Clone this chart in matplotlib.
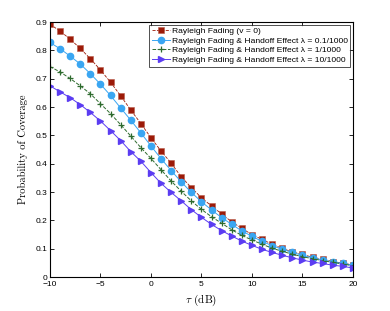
import numpy as np
import matplotlib
matplotlib.use("Agg")
import matplotlib.pyplot as plt

plt.rcParams["mathtext.fontset"] = "cm"

tau = np.arange(-10, 21)

p_rayleigh = [0.893, 0.868, 0.840, 0.807, 0.771, 0.731, 0.688, 0.640, 0.590, 0.542,
              0.492, 0.445, 0.402, 0.354, 0.316, 0.280, 0.251, 0.223, 0.195, 0.172,
              0.150, 0.133, 0.116, 0.101, 0.089, 0.080, 0.070, 0.063, 0.055, 0.049, 0.043]
p_handoff_01 = [0.828, 0.806, 0.780, 0.752, 0.718, 0.681, 0.641, 0.597, 0.554, 0.509,
                0.463, 0.418, 0.376, 0.336, 0.299, 0.266, 0.237, 0.210, 0.186, 0.163,
                0.144, 0.126, 0.111, 0.098, 0.087, 0.077, 0.068, 0.060, 0.054, 0.048, 0.042]
p_handoff_1 = [0.743, 0.724, 0.701, 0.675, 0.647, 0.612, 0.577, 0.538, 0.498, 0.457,
               0.419, 0.379, 0.339, 0.303, 0.269, 0.239, 0.213, 0.190, 0.167, 0.147,
               0.131, 0.116, 0.102, 0.091, 0.081, 0.072, 0.065, 0.058, 0.052, 0.046, 0.040]
p_handoff_10 = [0.675, 0.654, 0.633, 0.609, 0.581, 0.551, 0.517, 0.482, 0.443, 0.409,
                0.369, 0.331, 0.299, 0.269, 0.238, 0.211, 0.186, 0.164, 0.145, 0.127,
                0.112, 0.098, 0.087, 0.077, 0.068, 0.060, 0.053, 0.048, 0.042, 0.038, 0.032]

labels = ["Rayleigh Fading (v = 0)",
          "Rayleigh Fading & Handoff Effect \u03bb = 0.1/1000",
          "Rayleigh Fading & Handoff Effect \u03bb = 1/1000",
          "Rayleigh Fading & Handoff Effect \u03bb = 10/1000"]

fig = plt.figure(figsize=(3.9, 3.11), dpi=100)
ax = fig.add_axes([0.128, 0.109, 0.777, 0.82])

ax.plot(tau, p_rayleigh, color="#9c1a08", ls="--", lw=0.6, marker="s", ms=3.8,
        mec="#b85a48", mew=0.4, label=labels[0])
ax.plot(tau, p_handoff_01, color="#3aa6f2", ls="-", lw=0.7, marker="o", ms=4.5,
        mec="#3aa6f2", label=labels[1])
ax.plot(tau, p_handoff_1, color="#2e6b2e", ls="--", lw=0.7, marker="+", ms=4.5,
        mew=0.9, label=labels[2])
ax.plot(tau, p_handoff_10, color="#5b3cf2", ls="-", lw=0.7, marker=">", ms=4.5,
        mec="#5b3cf2", label=labels[3])

ax.set_xlim(-10, 20)
ax.set_ylim(0, 0.9)
ax.set_xticks([-10, -5, 0, 5, 10, 15, 20])
ax.set_yticks(np.arange(0, 0.91, 0.1))
ax.set_yticklabels(["0", "0.1", "0.2", "0.3", "0.4", "0.5", "0.6", "0.7", "0.8", "0.9"])
ax.tick_params(direction="in", top=True, right=True, labelsize=6, length=3, width=0.6, pad=2)
ax.tick_params(axis="x", pad=3)
for lab in ax.get_xticklabels() + ax.get_yticklabels():
    lab.set_family("Liberation Sans")
for s in ax.spines.values():
    s.set_linewidth(0.8)

ax.set_xlabel(r"$\tau$ (dB)", family="cmr10", fontsize=8, labelpad=3)
ax.set_ylabel("Probability of Coverage", family="cmr10", fontsize=7.6, labelpad=5)

leg = ax.legend(loc="upper right", frameon=True, fancybox=False,
                borderpad=0.3, labelspacing=0.2, handlelength=2.2, handletextpad=0.2,
                borderaxespad=0.3, prop={"family": "Liberation Sans", "size": 6.1})
leg.get_frame().set_edgecolor("black")
leg.get_frame().set_linewidth(0.6)

fig.savefig("out.png", dpi=100)
